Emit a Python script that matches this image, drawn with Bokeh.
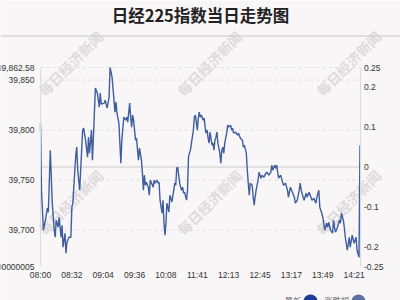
from bokeh.plotting import figure
from bokeh.models import Range1d, LinearAxis, FixedTicker, Label, BoxAnnotation, ColumnDataSource
from bokeh.embed import file_html
from bokeh.resources import INLINE

TITLE = "日经225指数当日走势图"
WATERMARK = "每日经济新闻"
legend_names = ["最新", "涨跌幅"]

minute_idx = [0, 1, 3, 5, 7, 8, 10, 12, 14, 15, 16, 18, 19, 20, 21, 22, 23, 25, 26, 27, 29, 31, 32, 33, 35, 36, 37, 38, 40,
              43, 44, 46, 48, 49, 50, 52, 53, 54, 56, 58, 60, 61, 62, 65, 66, 68, 70, 71, 73, 75, 76, 77, 78, 80, 81, 82,
              83, 85, 87, 88, 89, 91, 92, 93, 94, 95, 97, 98, 99, 100, 101, 103, 104, 105, 106, 107, 108, 110, 111, 112,
              113, 115, 116, 117, 119, 120, 121, 122, 124, 125, 126, 127, 128, 129, 130, 131, 132, 133, 134, 136, 137,
              138, 139, 140, 142, 143, 144, 145, 146, 147, 149, 150, 151, 152, 153, 154, 156, 157, 158, 159, 160, 161,
              162, 163, 164, 166, 167, 168, 169, 170, 171, 172, 173, 175, 176, 177, 178, 179, 180, 181, 183, 184, 185,
              186, 187, 188, 190, 191, 192, 194, 195, 196, 197, 199, 201, 202, 204, 206, 207, 208, 210, 211, 212, 213,
              214, 216, 217, 218, 219, 220, 222, 223, 224, 225, 226, 228, 230, 231, 233, 235, 236, 237, 239, 240, 241,
              242, 243, 245, 247, 248, 250, 252, 253, 255, 257, 259, 260, 262, 264, 265, 266, 268, 269, 271, 272, 274,
              276, 277, 279, 281, 282, 284, 285, 287, 288, 289, 290, 292, 293, 294, 296, 298, 299, 300, 301, 303, 305,
              306, 307, 309, 310, 311, 313, 315, 316, 318, 320, 322, 323, 325, 326]
price = [39807, 39740, 39700, 39710, 39722, 39718, 39780, 39727, 39700, 39693, 39710, 39703, 39713, 39703, 39693, 39705,
         39683, 39697, 39677, 39688, 39693, 39693, 39723, 39727, 39760, 39775, 39783, 39760, 39740,
         39800, 39802, 39790, 39773, 39793, 39777, 39800, 39770, 39793, 39842, 39837, 39823, 39837, 39826, 39827, 39830,
         39822, 39833, 39862.58, 39853, 39830, 39818, 39828, 39817, 39807, 39787, 39767,
         39790, 39813, 39810, 39813, 39808, 39827, 39813, 39803, 39815, 39810, 39790, 39792, 39780, 39770, 39782, 39770,
         39757, 39740, 39755, 39745, 39748, 39743, 39735, 39750,
         39748, 39743, 39750, 39747, 39750, 39747, 39748, 39730, 39717, 39730, 39707, 39695, 39707, 39727, 39723, 39718,
         39735, 39732, 39728, 39740, 39747,
         39745, 39762, 39763, 39747, 39743, 39740, 39743, 39737, 39738, 39730, 39740, 39773, 39777, 39780, 39787, 39800,
         39813, 39815, 39808, 39800, 39812,
         39818, 39813, 39815, 39810, 39812, 39803, 39797, 39800, 39792, 39787, 39798, 39785, 39787, 39780, 39790, 39793,
         39798, 39787, 39777, 39767, 39780,
         39783, 39777, 39787, 39797, 39805, 39803, 39805, 39800, 39802, 39797, 39798, 39795, 39797, 39792, 39790, 39783,
         39785, 39777, 39760, 39747, 39735,
         39747, 39745, 39733, 39725, 39733, 39740, 39750, 39758, 39755, 39752, 39755, 39753, 39757, 39758, 39755, 39758,
         39765, 39760, 39765, 39762, 39765,
         39758, 39752, 39755, 39748, 39745, 39747, 39740, 39733, 39743, 39738, 39733, 39727, 39730, 39740, 39747, 39740,
         39733, 39730, 39737, 39733, 39738,
         39733, 39730, 39732, 39727, 39733, 39740, 39723, 39717, 39713, 39707, 39700, 39707, 39703, 39708, 39700, 39697,
         39710, 39703, 39698, 39703, 39710,
         39707, 39717, 39710, 39703, 39693, 39680, 39693, 39683, 39695, 39687, 39693, 39680, 39673, 39785]

prev_close = 39763.17
y_top = 39862.58
y_bottom = 39663.76
last_index = 326

time_ticks = [0, 32, 64, 96, 128, 160, 192, 224, 256, 288, 320]
time_labels = ["08:00", "08:32", "09:04", "09:36", "10:08", "11:41", "12:13", "12:45", "13:17", "13:49", "14:21"]
price_ticks = [39663.76, 39700, 39750, 39800, 39850, 39862.58]
price_labels = ["39,663.760000000005", "39,700", "39,750", "39,800", "39,850", "39,862.58"]
grid_values = [39700, 39750, 39800, 39850, 39862.58]
pct_ticks = [-0.25, -0.2, -0.1, 0, 0.1, 0.2, 0.25]
pct_labels = ["-0.25", "-0.2", "-0.1", "0", "0.1", "0.2", "0.25"]
pct_lo, pct_hi = -0.25, 0.25

# ---- layout (pixels) ----
W, H = 400, 300
PL, PR, PT, PB = 40, 359.5, 67, 266     # plot area edges inside the canvas

BG = "#f9f6f7"
LINE = "#3f5e9f"
LEG1 = "#1c3c9b"
LEG2 = "#5c72a3"
TXT = "#333333"
NUMFONT = "Liberation Sans"
CJK = "Noto Sans CJK SC"

# ranges are extended so that the whole canvas is the frame and the data fill the plot area
kx = last_index / (PR - PL)
ky = (y_top - y_bottom) / (PB - PT)
kp = (pct_hi - pct_lo) / (PB - PT)
x_rng = Range1d(0 - PL * kx, last_index + (W - PR) * kx)
y_rng = Range1d(y_bottom - (H - PB) * ky, y_top + PT * ky)
p_rng = Range1d(pct_lo - (H - PB) * kp, pct_hi + PT * kp)

p = figure(width=W, height=H, output_backend="svg", toolbar_location=None,
           x_range=x_rng, y_range=y_rng, x_axis_location=None, y_axis_location=None,
           min_border=0, min_border_left=0, min_border_right=0, min_border_top=0, min_border_bottom=0,
           background_fill_color=BG, border_fill_color=BG, outline_line_color=None)
p.extra_y_ranges = {"pct": p_rng}
p.grid.visible = False

# watermarks
for cx in (70, 209, 348):
    for cy in (63, 202):
        p.add_layout(Label(x=cx, y=cy, x_units="canvas", y_units="canvas", text=WATERMARK,
                           angle=45, angle_units="deg", text_align="center", text_baseline="middle",
                           text_font=CJK, text_font_style="bold", text_font_size="14px",
                           text_color="#dedadc", level="underlay"))

# grid lines and previous-close line
p.segment(x0=[0] * len(grid_values), x1=[last_index] * len(grid_values), y0=grid_values, y1=grid_values,
          line_color="#e0dcdd", line_width=1, line_dash="3 3")
p.segment(x0=[0], x1=[last_index], y0=[prev_close], y1=[prev_close], line_color="#cccccc", line_width=1)

src = ColumnDataSource(data=dict(minute=minute_idx, price=price))
p.line(x="minute", y="price", source=src, line_color=LINE, line_width=1.4)

axis_style = dict(major_tick_line_color=None, minor_tick_line_color=None, major_tick_out=0, major_tick_in=0,
                  minor_tick_out=0, minor_tick_in=0, major_label_text_font_size="8.5px",
                  major_label_text_color=TXT, major_label_text_font=NUMFONT)

# axes placed at the plot-area edges
ly = LinearAxis(fixed_location=0, bounds=(y_bottom, y_top), ticker=FixedTicker(ticks=price_ticks),
                major_label_overrides={t: l for t, l in zip(price_ticks, price_labels)},
                axis_line_color="#dcdcdc", major_label_standoff=6, **axis_style)
p.add_layout(ly, "left")

ry = LinearAxis(y_range_name="pct", fixed_location=last_index, bounds=(pct_lo, pct_hi),
                ticker=FixedTicker(ticks=pct_ticks),
                major_label_overrides={t: l for t, l in zip(pct_ticks, pct_labels)},
                axis_line_color="#dcdcdc", major_label_standoff=4, **axis_style)
p.add_layout(ry, "right")

bx = LinearAxis(fixed_location=y_bottom, ticker=FixedTicker(ticks=time_ticks),
                major_label_overrides={t: l for t, l in zip(time_ticks, time_labels)},
                axis_line_color=None, major_label_standoff=3, **axis_style)
p.add_layout(bx, "below")

# title and separator
p.add_layout(Label(x=200, y=14, x_units="canvas", y_units="canvas", text=TITLE,
                   text_align="center", text_baseline="middle", text_font=CJK,
                   text_font_style="bold", text_font_size="16.5px", text_color="#222222"))
p.add_layout(BoxAnnotation(left=0, right=W, top=35, bottom=36, left_units="canvas", right_units="canvas",
                           top_units="canvas", bottom_units="canvas", fill_color="#c8c8c8", fill_alpha=1,
                           line_color=None))

# legend
leg_text_x = [301, 349]
leg_box = [(303, 317), (351, 365)]
for name, tx, (l, r), col in zip(legend_names, leg_text_x, leg_box, [LEG1, LEG2]):
    p.add_layout(Label(x=tx, y=299, x_units="canvas", y_units="canvas", text=name,
                       text_align="right", text_baseline="middle", text_font=CJK,
                       text_font_size="8.5px", text_color="#666666"))
    p.add_layout(BoxAnnotation(left=l, right=r, top=294, bottom=308, left_units="canvas", right_units="canvas",
                               top_units="canvas", bottom_units="canvas", fill_color=col, fill_alpha=1,
                               line_color=None, border_radius=7))

open("out.html", "w").write(file_html(p, INLINE))
